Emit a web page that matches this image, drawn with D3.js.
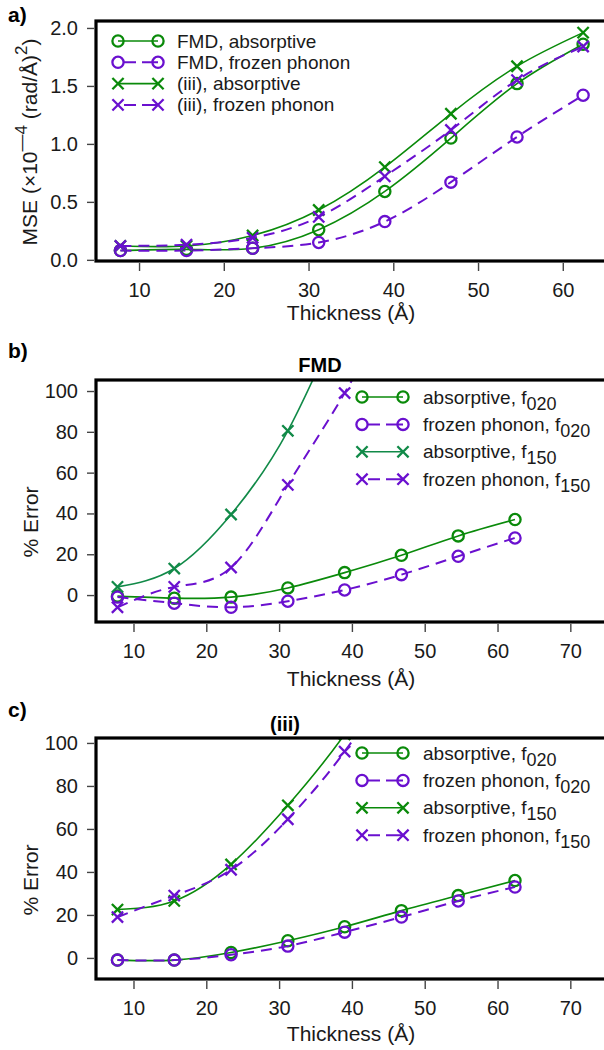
<!DOCTYPE html>
<html>
<head>
<meta charset="utf-8">
<script src="https://cdn.jsdelivr.net/npm/d3@7"></script>
<style>
  body { margin: 0; background: #fff; }
  svg { display: block; font-family: "Liberation Sans", Arial, sans-serif; }
</style>
</head>
<body>
<svg id="chart" width="604" height="1050"></svg>
<script>
// shared x values (thickness, Å)
var thickness = [7.8, 15.6, 23.4, 31.2, 39.0, 46.8, 54.6, 62.4];

// a) MSE (x10^-4 (rad/Å)^2)
var mseFmdAbs = [0.08, 0.09, 0.10, 0.26, 0.59, 1.05, 1.52, 1.86];
var mseFmdFp  = [0.08, 0.08, 0.10, 0.15, 0.33, 0.67, 1.06, 1.42];
var mseIiiAbs = [0.12, 0.12, 0.21, 0.43, 0.80, 1.26, 1.67, 1.96];
var mseIiiFp  = [0.12, 0.13, 0.19, 0.37, 0.72, 1.12, 1.55, 1.84];

// b) FMD, % error (f150 series run off the top of the panel)
var fmdAbs020 = [-0.5, -1.5, -1, 3.5, 11, 19.5, 29, 37];
var fmdFp020  = [-1, -4, -6, -3, 2.5, 10, 19, 28];
var fmdAbs150 = [4, 13, 39.5, 80.5, 140, 200, 260, 320];
var fmdFp150  = [-6, 4, 13.5, 54, 99, 150, 200, 250];

// c) (iii), % error
var iiiAbs020 = [-1, -1, 2.5, 8, 14.5, 22, 29, 36];
var iiiFp020  = [-1, -1, 1.5, 5.5, 12, 19, 26.5, 33];
var iiiAbs150 = [22.5, 26.5, 43.5, 71, 104, 145, 190, 235];
var iiiFp150  = [19, 29, 41, 64.5, 96, 135, 175, 215];

var legendA = ["FMD, absorptive", "FMD, frozen phonon", "(iii), absorptive", "(iii), frozen phonon"];
var legendBC = ["absorptive, f", "frozen phonon, f", "absorptive, f", "frozen phonon, f"];
var legendSubs = ["020", "020", "150", "150"];

var xTicksA = [10, 20, 30, 40, 50, 60];
var yTicksA = [0, 0.5, 1.0, 1.5, 2.0];
var xTicksBC = [10, 20, 30, 40, 50, 60, 70];
var yTicksBC = [0, 20, 40, 60, 80, 100];

var green = "#0a8a0a",
  teal = "#118a48",
  purple = "#6a10cf";

var svg = d3.select("#chart");

function drawPanel(p) {
  var g = svg.append("g");
  var x = d3.scaleLinear().domain(p.xDomain).range([p.left, p.right]),
    y = d3.scaleLinear().domain(p.yDomain).range([p.bottom, p.top]);

  g.append("clipPath").attr("id", p.id + "-clip")
    .append("rect")
    .attr("x", p.left).attr("y", p.top)
    .attr("width", p.right - p.left + 10).attr("height", p.bottom - p.top);

  var plot = g.append("g").attr("clip-path", "url(#" + p.id + "-clip)");

  var line = d3.line()
    .x(function(d) { return x(d[0]); })
    .y(function(d) { return y(d[1]); })
    .curve(d3.curveNatural);

  p.series.forEach(function(s) {
    var pts = thickness.map(function(t, i) { return [t, s.values[i]]; });
    plot.append("path")
      .datum(pts)
      .attr("fill", "none")
      .attr("stroke", s.color)
      .attr("stroke-width", s.dash ? 2 : 1.6)
      .attr("stroke-dasharray", s.dash ? "11,7" : null)
      .attr("d", line);
    pts.forEach(function(d) {
      drawMarker(plot, s.marker, x(d[0]), y(d[1]), s.color);
    });
  });

  // frame
  g.append("rect")
    .attr("x", p.left).attr("y", p.top)
    .attr("width", p.right - p.left + 20).attr("height", p.bottom - p.top)
    .attr("fill", "none").attr("stroke", "#000").attr("stroke-width", 3.2);

  // axes
  var xAxis = g.append("g")
    .attr("transform", "translate(0," + (p.bottom + 2) + ")")
    .call(d3.axisBottom(x).tickValues(p.xTicks).tickSize(8).tickPadding(12));
  var yAxis = g.append("g")
    .attr("transform", "translate(" + (p.left - 2) + ",0)")
    .call(d3.axisLeft(y).tickValues(p.yTicks).tickSize(7).tickPadding(9)
      .tickFormat(p.yFormat));
  [xAxis, yAxis].forEach(function(a) {
    a.select(".domain").remove();
    a.selectAll(".tick line").attr("stroke", "#444").attr("stroke-width", 1.4);
    a.selectAll(".tick text").attr("fill", "#1a1a1a")
      .style("font-size", "20px").style("font-family", "Liberation Sans, Arial, sans-serif");
  });

  g.append("text")
    .attr("x", (p.left + p.right) / 2).attr("y", p.xTitleY)
    .attr("text-anchor", "middle").attr("fill", "#1a1a1a")
    .style("font-size", "21px")
    .text("Thickness (Å)");

  // panel letter
  g.append("text")
    .attr("x", 8).attr("y", p.letterY)
    .style("font-size", "21px").style("font-weight", "bold")
    .text(p.letter);

  if (p.title) {
    g.append("text")
      .attr("x", p.title.x).attr("y", p.title.y)
      .attr("text-anchor", "middle")
      .style("font-size", "20px").style("font-weight", "bold")
      .text(p.title.text);
  }

  // legend
  var lg = g.append("g");
  p.series.forEach(function(s, i) {
    var ly = p.legend.y + i * p.legend.step;
    lg.append("line")
      .attr("x1", p.legend.x0).attr("x2", p.legend.x1)
      .attr("y1", ly).attr("y2", ly)
      .attr("stroke", s.color)
      .attr("stroke-width", s.dash ? 2 : 1.6)
      .attr("stroke-dasharray", s.dash ? "0,6,12,6,20" : null);
    drawMarker(lg, s.marker, p.legend.x0, ly, s.color);
    drawMarker(lg, s.marker, p.legend.x1, ly, s.color);
    var t = lg.append("text")
      .attr("x", p.legend.tx).attr("y", ly + 6.5)
      .attr("fill", "#1a1a1a")
      .style("font-size", "19px")
      .text(p.legend.labels[i]);
    if (p.legend.subs) {
      t.append("tspan").attr("dy", 6).style("font-size", "18px").text(p.legend.subs[i]);
    }
  });

  return { x: x, y: y };
}

function drawMarker(sel, type, cx, cy, color) {
  if (type === "circle") {
    sel.append("circle")
      .attr("cx", cx).attr("cy", cy).attr("r", 5.6)
      .attr("fill", "none").attr("stroke", color).attr("stroke-width", 2.3);
  } else {
    var r = 5.6;
    sel.append("path")
      .attr("d", "M" + (cx - r) + "," + (cy - r) + "L" + (cx + r) + "," + (cy + r) +
        "M" + (cx - r) + "," + (cy + r) + "L" + (cx + r) + "," + (cy - r))
      .attr("stroke", color).attr("stroke-width", 2.3).attr("fill", "none");
  }
}

// a)
drawPanel({
  id: "pa", letter: "a)", letterY: 22,
  left: 96, right: 606, top: 21, bottom: 261,
  xDomain: [4.92, 65.1], yDomain: [-0.01, 2.06],
  xTicks: xTicksA, yTicks: yTicksA, yFormat: d3.format(".1f"),
  xTitleY: 320,
  series: [
    { values: mseFmdAbs, color: green, dash: false, marker: "circle" },
    { values: mseFmdFp, color: purple, dash: true, marker: "circle" },
    { values: mseIiiAbs, color: green, dash: false, marker: "x" },
    { values: mseIiiFp, color: purple, dash: true, marker: "x" }
  ],
  legend: { x0: 118, x1: 158, y: 41, step: 21.3, tx: 177, labels: legendA }
});

// b)
drawPanel({
  id: "pb", letter: "b)", letterY: 358,
  left: 96, right: 606, top: 380, bottom: 622,
  xDomain: [4.85, 74.9], yDomain: [-13.2, 105.4],
  xTicks: xTicksBC, yTicks: yTicksBC, yFormat: d3.format("d"),
  xTitleY: 686,
  title: { text: "FMD", x: 320, y: 372 },
  series: [
    { values: fmdAbs020, color: green, dash: false, marker: "circle" },
    { values: fmdFp020, color: purple, dash: true, marker: "circle" },
    { values: fmdAbs150, color: teal, dash: false, marker: "x" },
    { values: fmdFp150, color: purple, dash: true, marker: "x" }
  ],
  legend: { x0: 362, x1: 403, y: 397, step: 27.4, tx: 423, labels: legendBC, subs: legendSubs }
});

// c)
drawPanel({
  id: "pc", letter: "c)", letterY: 717,
  left: 96, right: 606, top: 738, bottom: 979,
  xDomain: [4.85, 74.9], yDomain: [-9.8, 102.3],
  xTicks: xTicksBC, yTicks: yTicksBC, yFormat: d3.format("d"),
  xTitleY: 1041,
  title: { text: "(iii)", x: 285, y: 731 },
  series: [
    { values: iiiAbs020, color: green, dash: false, marker: "circle" },
    { values: iiiFp020, color: purple, dash: true, marker: "circle" },
    { values: iiiAbs150, color: green, dash: false, marker: "x" },
    { values: iiiFp150, color: purple, dash: true, marker: "x" }
  ],
  legend: { x0: 362, x1: 403, y: 753, step: 27.4, tx: 423, labels: legendBC, subs: legendSubs }
});

// y axis titles
svg.append("text")
  .attr("transform", "translate(37,142) rotate(-90)")
  .attr("text-anchor", "middle").attr("fill", "#1a1a1a")
  .style("font-size", "21px")
  .call(function(t) {
    t.append("tspan").text("MSE (×10");
    t.append("tspan").attr("dy", -10).style("font-size", "17px").text("—4");
    t.append("tspan").attr("dy", 10).text(" (rad/Å)");
    t.append("tspan").attr("dy", -10).style("font-size", "17px").text("2");
    t.append("tspan").attr("dy", 10).text(")");
  });

svg.append("text")
  .attr("transform", "translate(38,522) rotate(-90)")
  .attr("text-anchor", "middle").attr("fill", "#1a1a1a")
  .style("font-size", "21px").text("% Error");

svg.append("text")
  .attr("transform", "translate(38,880) rotate(-90)")
  .attr("text-anchor", "middle").attr("fill", "#1a1a1a")
  .style("font-size", "21px").text("% Error");
</script>
</body>
</html>
